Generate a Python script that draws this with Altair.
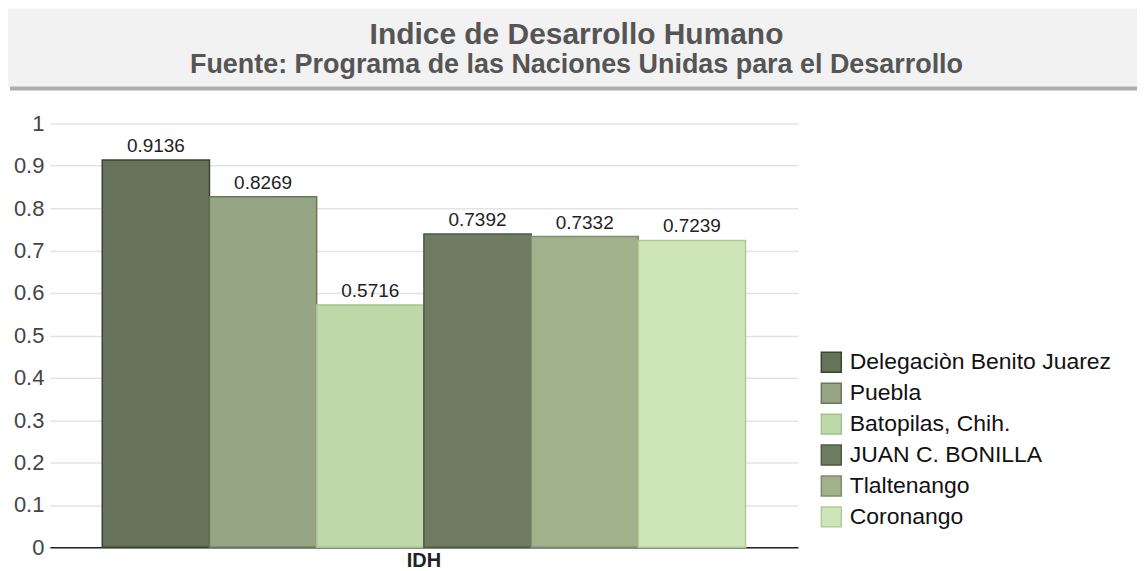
import altair as alt
import pandas as pd

names = ["Delegaciòn Benito Juarez", "Puebla", "Batopilas, Chih.",
         "JUAN C. BONILLA", "Tlaltenango", "Coronango"]
values = [0.9136, 0.8269, 0.5716, 0.7392, 0.7332, 0.7239]
labels = ["0.9136", "0.8269", "0.5716", "0.7392", "0.7332", "0.7239"]
category = ["IDH"] * 6
fills = ["#67725a", "#96a583", "#bfd8aa", "#6f7c62", "#a1b18c", "#cde5b7"]
strokes = ["#3a4432", "#6a7759", "#a6c190", "#4e5843", "#7f8c6d", "#b0cb98"]
title_text = "Indice de Desarrollo Humano"
subtitle_text = "Fuente: Programa de las Naciones Unidas para el Desarrollo"
y_ticks = [0, 0.1, 0.2, 0.3, 0.4, 0.5, 0.6, 0.7, 0.8, 0.9, 1]

df = pd.DataFrame({"cat": category, "name": names, "value": values, "label": labels})

FONT = "Liberation Sans"

x_enc = alt.X("cat:N", title=None,
              scale=alt.Scale(paddingInner=0, paddingOuter=0.0814),
              axis=alt.Axis(labelFontSize=20, labelFontWeight="bold", labelColor="#222",
                            labelFont=FONT, ticks=False, labelPadding=3, labelAngle=0,
                            domainColor="#222", domainWidth=1.5))
xoff = alt.XOffset("name:N", sort=names, scale=alt.Scale(paddingInner=0, paddingOuter=0))

legend = alt.Legend(title=None, orient="none", legendX=772, legendY=228,
                    symbolType="square", symbolSize=400, symbolStrokeWidth=1.5,
                    labelFontSize=23, labelFont=FONT, labelColor="#111", labelLimit=0,
                    rowPadding=4, labelOffset=7)

bars = alt.Chart(df).mark_bar(strokeWidth=1.5).encode(
    x=x_enc,
    xOffset=xoff,
    y=alt.Y("value:Q", title=None,
            scale=alt.Scale(domain=[0, 1], nice=False),
            axis=alt.Axis(values=y_ticks, format=".1~f", labelFontSize=22, labelColor="#444",
                          labelFont=FONT, ticks=False, domain=False, labelPadding=6,
                          gridColor="#e4e4e4", gridWidth=1.5)),
    fill=alt.Fill("name:N", sort=names, scale=alt.Scale(domain=names, range=fills),
                  legend=legend),
    stroke=alt.Stroke("name:N", sort=names, scale=alt.Scale(domain=names, range=strokes),
                      legend=legend),
)

texts = alt.Chart(df).mark_text(dy=-14, fontSize=19, font=FONT, color="#222").encode(
    x=alt.X("cat:N"),
    xOffset=xoff,
    y=alt.Y("value:Q"),
    text="label:N",
)

tdf = pd.DataFrame({"t": [title_text], "s": [subtitle_text]})
shadow = alt.Chart(tdf).mark_rect(color="#9a9a9a", opacity=0.8).encode(
    x=alt.value(-40), x2=alt.value(1100), y=alt.value(-114), y2=alt.value(-33))
box = alt.Chart(tdf).mark_rect(color="#f2f2f2").encode(
    x=alt.value(-45), x2=alt.value(1100), y=alt.value(-115), y2=alt.value(-37))
t1 = alt.Chart(tdf).mark_text(fontSize=30, fontWeight="bold", font=FONT, color="#555",
                              baseline="alphabetic").encode(
    x=alt.value(528), y=alt.value(-80), text="t:N")
t2 = alt.Chart(tdf).mark_text(fontSize=27, fontWeight="bold", font=FONT, color="#555",
                              baseline="alphabetic").encode(
    x=alt.value(528), y=alt.value(-51), text="s:N")

chart = alt.layer(shadow, box, t1, t2, bars, texts).properties(
    width=750, height=425,
    autosize=alt.AutoSizeParams(type="none"),
    padding={"left": 42, "top": 115, "right": 340, "bottom": 25},
).configure_view(stroke=None)

chart.save("out.html", embed_options={"renderer": "svg", "actions": False})
